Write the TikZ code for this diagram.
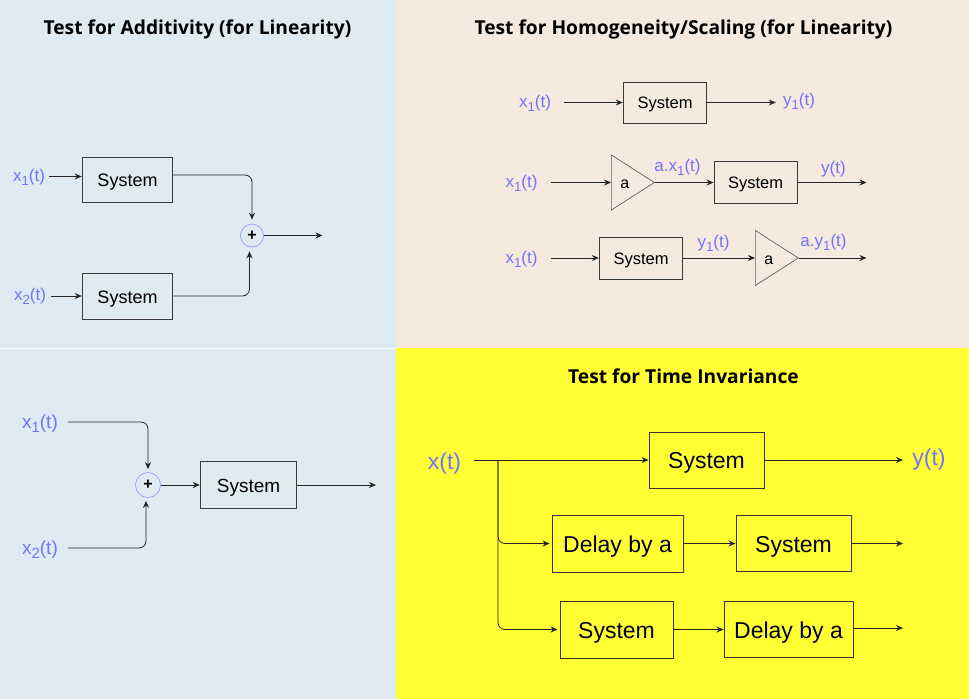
\documentclass[tikz,border=0pt]{standalone}
\usepackage{fontspec}
\setmainfont{Liberation Sans}
\newfontfamily\titlefont{Open Sans}
\usetikzlibrary{arrows.meta,shapes.geometric}
\definecolor{panelblue}{HTML}{DEEBF2}
\definecolor{panelpeach}{HTML}{F6E9DD}
\definecolor{panelyellow}{HTML}{FFFF33}
\definecolor{siglabel}{HTML}{7373FF}
\definecolor{edgegray}{HTML}{3A3A3A}
\newcommand{\lsub}[1]{\raisebox{-0.22em}{\fontsize{0.78em}{1em}\selectfont #1}}
\tikzset{
  panel/.style={fill=#1,draw=none},
  titletext/.style={font=\titlefont\bfseries\fontsize{19.2}{22}\selectfont,inner sep=0pt,text=black,text height=19pt,text depth=4pt},
  boxfont/.style={font=\fontsize{#1}{#1}\selectfont,text height={0.96*#1pt},text depth={0.18*#1pt}},
  sigfont/.style={font=\fontsize{#1}{#1}\selectfont,text height={0.95*#1pt},text depth={0.3*#1pt}},
  sysbox/.style={draw=edgegray,line width=0.9pt,inner sep=0pt,boxfont=18},
  smallbox/.style={sysbox,boxfont=16.5},
  bigbox/.style={sysbox,draw=black!80,boxfont=23,text=black!90!blue},
  sig/.style={inner sep=0pt,text=siglabel,sigfont=17},
  bigsig/.style={sig,sigfont=23},
  sumnode/.style={circle,draw=siglabel!70,line width=0.7pt,minimum size=23pt,inner sep=0pt,font=\bfseries\fontsize{16}{16}\selectfont},
  gain/.style={isosceles triangle,isosceles triangle stretches,draw=edgegray!80,line width=0.7pt,inner sep=0pt,minimum height=43pt,minimum width=55pt,anchor=lower side,boxfont=16},
  conn/.style={draw=black!85,line width=0.8pt,-{Stealth[length=7pt,width=6pt]},rounded corners=7pt}
}
\begin{document}
\begin{tikzpicture}[x=1pt,y=-1pt]
\useasboundingbox (0,0) rectangle (969,699);
% panels
\fill[panel=panelblue] (0,0) rectangle (396,347.5);
\fill[panel=panelblue] (0,349) rectangle (396,699);
\fill[panel=panelpeach] (396,0) rectangle (969,347.5);
\fill[panel=panelyellow] (396,347.5) rectangle (969,699);
% titles
\node[titletext] (t1) at (197.5,27) {Test for Additivity (for Linearity)};
\node[titletext] (t2) at (683.5,27) {Test for Homogeneity/Scaling (for Linearity)};
\node[titletext] (t3) at (683.5,376) {Test for Time Invariance};
% additivity
\node[sig] (aX1) at (29,176) {x\lsub{1}(t)};
\node[sig] (aX2) at (30,295) {x\lsub{2}(t)};
\node[sysbox,minimum width=90.5pt,minimum height=45pt] (aS1) at (127.5,179.5) {System};
\node[sysbox,minimum width=90.5pt,minimum height=46pt] (aS2) at (127.5,296) {System};
\node[sumnode] (aSum) at (252,235.5) {+};
\coordinate (aOut) at (322.5,235.5);
\draw[conn,shorten <=4pt] (aX1.east |- 0,176.5) -- (aS1.west |- 0,176.5);
\draw[conn,shorten <=5pt] (aX2.east |- aS2.west) -- (aS2.west);
\draw[conn,shorten >=4pt] ([yshift=4.5pt]aS1.east) -| (aSum.north);
\draw[conn,shorten >=4pt] (aS2.east) -| ([xshift=-2.5pt]aSum.south);
\draw[conn] (aSum.east) -- (aOut);
% superposition
\node[sig,sigfont=19] (bX1) at (40,422) {x\lsub{1}(t)};
\node[sig,sigfont=19] (bX2) at (40,548) {x\lsub{2}(t)};
\node[sumnode,minimum size=25pt] (bSum) at (148,485) {+};
\node[sysbox,boxfont=19,minimum width=96.5pt,minimum height=47pt] (bS) at (248.5,485) {System};
\coordinate (bOut) at (376,485);
\draw[conn,shorten <=10pt,shorten >=3pt] (bX1.east |- 0,422) -| (bSum.north);
\draw[conn,shorten <=10pt,shorten >=3pt] (bX2.east |- 0,548) -| ([xshift=-2pt]bSum.south);
\draw[conn] (bSum.east) -- (bS.west);
\draw[conn] (bS.east) -- (bOut);
% scaling row 1
\node[sig] (cX) at (535,102) {x\lsub{1}(t)};
\node[smallbox,minimum width=83.5pt,minimum height=41pt] (cS) at (665,102.5) {System};
\node[sig] (cY) at (799,100) {y\lsub{1}(t)};
\draw[conn,shorten <=13pt] (cX.east |- cS.west) -- (cS.west);
\draw[conn,shorten >=7pt] (cS.east) -- (cY.west |- cS.east);
% scaling row 2
\node[sig] (dX) at (521.5,182) {x\lsub{1}(t)};
\node[gain] (dA) at (611,182.5) {\hspace*{3pt}a};
\node[smallbox,minimum width=83pt,minimum height=42pt] (dS) at (755.5,182.5) {System};
\node[sig] (dL) at (677.5,166) {a.x\lsub{1}(t)};
\node[sig] (dY) at (833.5,168) {y(t)};
\coordinate (dOut) at (866.5,182.5);
\draw[conn,shorten <=13pt] (dX.east |- dA.lower side) -- (dA.lower side);
\draw[conn] (dA.apex) -- (dS.west);
\draw[conn] (dS.east) -- (dOut);
% scaling row 3
\node[sig] (eX) at (521.5,258) {x\lsub{1}(t)};
\node[smallbox,minimum width=83.5pt,minimum height=42pt] (eS) at (641,258) {System};
\node[gain] (eA) at (755,258) {\hspace*{3pt}a};
\node[sig] (eL) at (713.5,242) {y\lsub{1}(t)};
\node[sig] (eR) at (823.5,241) {a.y\lsub{1}(t)};
\coordinate (eOut) at (866.5,258);
\draw[conn,shorten <=13pt] (eX.east |- eS.west) -- (eS.west);
\draw[conn] (eS.east) -- (eA.lower side);
\draw[conn] (eA.apex) -- (eOut);
% time invariance
\node[bigsig] (fX) at (444.5,462) {x(t)};
\node[bigbox,minimum width=115pt,minimum height=56pt] (fS1) at (706.5,460) {System};
\node[bigsig] (fY) at (929,458) {y(t)};
\node[bigbox,minimum width=131pt,minimum height=57pt] (fD1) at (617.5,543.5) {Delay by a};
\node[bigbox,minimum width=115pt,minimum height=56pt] (fS2) at (793.5,543.5) {System};
\node[bigbox,minimum width=113pt,minimum height=57pt] (fS3) at (616.5,629.5) {System};
\node[bigbox,minimum width=129pt,minimum height=56pt] (fD2) at (788.5,629.5) {Delay by a};
\coordinate (fJ) at (498,460);
\coordinate (fOutA) at (903,460);
\coordinate (fOutB) at (903,543.5);
\coordinate (fOutC) at (903,628);
\draw[conn,shorten <=13pt] (fX.east |- fS1.west) -- (fS1.west);
\draw[conn] (fS1.east) -- (fOutA);
\draw[conn,shorten >=2pt] (fJ) |- (fD1.west);
\draw[conn,shorten >=2pt] (fJ) |- (fS3.west);
\draw[conn] (fD1.east) -- (fS2.west);
\draw[conn] (fS2.east) -- (fOutB);
\draw[conn] (fS3.east) -- (fD2.west);
\draw[conn] (fD2.east |- fOutC) -- (fOutC);
\end{tikzpicture}
\end{document}
